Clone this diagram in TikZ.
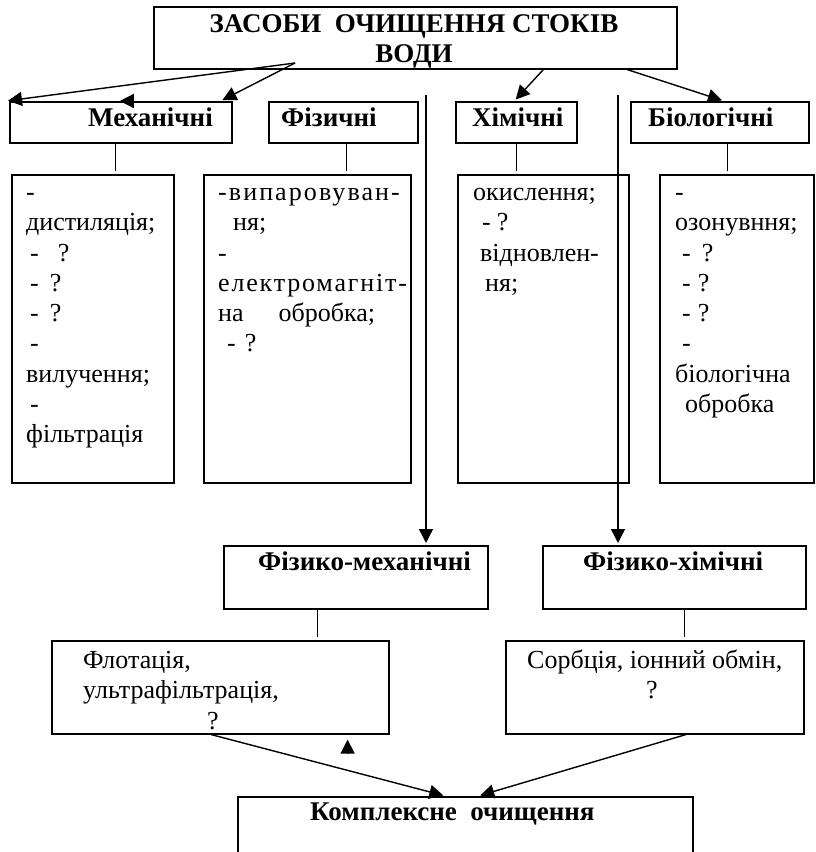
\documentclass[tikz,border=0pt]{standalone}
\usepackage{fontspec}
\setmainfont{Liberation Serif}
\usetikzlibrary{arrows.meta}

\begin{document}
\begin{tikzpicture}[
    x=1pt, y=-1pt,
    box/.style={draw, line width=1.6pt, inner sep=0pt, anchor=north west},
    head/.style={anchor=north, align=center, inner sep=0pt, font=\fontsize{27}{30}\selectfont\bfseries},
    title/.style={anchor=base west, inner sep=0pt, font=\fontsize{27}{30}\selectfont\bfseries},
    item/.style={anchor=north west, align=left, inner sep=0pt, font=\fontsize{26}{30.3}\selectfont},
    link/.style={line width=1pt, shorten >=3pt},
    arrow/.style={-{Triangle[length=14pt,width=14pt]}, line width=1.4pt, shorten >=2pt}
    ]
\clip (0,0) rectangle (816,852);

% Top box
\node[box, minimum width=523pt, minimum height=62pt] (top) at (153,6) {};
\node[head] (top text) at (414,11) {\strut ЗАСОБИ\ \ ОЧИЩЕННЯ СТОКІВ\\ВОДИ};

% Kinds of cleaning
\node[box, minimum width=222pt, minimum height=41pt] (mech) at (9,101) {};
\node[box, minimum width=149pt, minimum height=41pt] (phys) at (268,101) {};
\node[box, minimum width=121pt, minimum height=41pt] (chem) at (455,101) {};
\node[box, minimum width=178pt, minimum height=41pt] (bio) at (630,101) {};
\node[title] (mech text) at (88,126) {Механічні};
\node[title] (phys text) at (281,126) {Фізичні};
\node[title] (chem text) at (472,126) {Хімічні};
\node[title] (bio text) at (648,126) {Біологічні};

% Lists of methods
\node[box, minimum width=162pt, minimum height=308pt] (mechlist) at (11,174) {};
\node[box, minimum width=207pt, minimum height=308pt] (physlist) at (203,174) {};
\node[box, minimum width=171pt, minimum height=308pt] (chemlist) at (457,174) {};
\node[box, minimum width=154pt, minimum height=308pt] (biolist) at (659,174) {};

\node[item] (mechlist text) at (26,179) {\strut-\\дистиляція;\\\hspace*{4pt}-\hspace{19pt}?\\\hspace*{4pt}-\hspace{11pt}?\\\hspace*{4pt}-\hspace{11pt}?\\\hspace*{4pt}-\\вилучення;\\\hspace*{4pt}-\\фільтрація};
\node[item] (physlist text) at (218,179) {\strut{\addfontfeature{LetterSpace=8}-випаровуван-}\\\hspace*{15pt}ня;\\-\\{\addfontfeature{LetterSpace=7}електромагніт-}\\на\hspace{35pt}обробка;\\\hspace*{9pt}-\hspace{9pt}?};
\node[item] (chemlist text) at (473,179) {\strut окислення;\\\hspace*{9pt}-\hspace{6pt}?\\\hspace*{7pt}відновлен-\\\hspace*{12pt}ня;};
\node[item] (biolist text) at (675,179) {\strut-\\озонувння;\\\hspace*{7pt}-\hspace{11pt}?\\\hspace*{7pt}-\hspace{7pt}?\\\hspace*{7pt}-\hspace{7pt}?\\\hspace*{7pt}-\\біологічна\\\hspace*{10pt}обробка};

% Combined methods
\node[box, minimum width=264pt, minimum height=63pt] (fizmech) at (223,545) {};
\node[box, minimum width=263pt, minimum height=63pt] (fizchem) at (542,545) {};
\node[title] (fizmech text) at (258,570) {Фізико-механічні};
\node[title] (fizchem text) at (583,570) {Фізико-хімічні};

\node[box, minimum width=337pt, minimum height=93pt] (flot) at (51,640) {};
\node[box, minimum width=298pt, minimum height=93pt] (sorb) at (505,640) {};
\node[item] (flot text) at (83,647) {\strut Флотація,\\ультрафільтрація,\\\hspace*{124pt}?};
\node[item] (sorb text) at (527,647) {\strut Сорбція, іонний обмін,\\\hspace*{119pt}?};

\node[box, minimum width=455pt, minimum height=80pt] (kompl) at (237,796) {};
\node[title] (kompl text) at (310,820) {Комплексне\ \ очищення};

% Arrows from the top box
\coordinate (fork) at (295,63);
\draw[arrow] (fork) -- ([xshift=-3pt]mech.north west);
\draw[arrow] (fork) -- ([xshift=-12pt]mech.north east);
\draw[arrow] ([xshift=12pt]mech.north) -- ([xshift=-3pt]mech.north);
\draw[arrow] ([xshift=128pt]top.south) -- ([xshift=-2pt]chem.north);
\draw[arrow] ([xshift=212pt]top.south) -- ([xshift=4pt]bio.north);

\coordinate (drop left) at (426,95);
\coordinate (drop right) at (618,95);
\draw[arrow] (drop left) -- (drop left |- fizmech.north);
\draw[arrow] (drop right) -- (drop right |- fizchem.north);

% Links to the lists
\draw[link] ([xshift=-5pt]mech.south) -- ([xshift=-5pt]mech.south |- mechlist.north);
\draw[link] ([xshift=3.5pt]phys.south) -- ([xshift=3.5pt]phys.south |- physlist.north);
\draw[link] (chem.south) -- (chem.south |- chemlist.north);
\draw[link] ([xshift=8pt]bio.south) -- ([xshift=8pt]bio.south |- biolist.north);
\draw[link] ([xshift=-38pt]fizmech.south) -- ([xshift=-38pt]fizmech.south |- flot.north);
\draw[link] ([xshift=10.5pt]fizchem.south) -- ([xshift=10.5pt]fizchem.south |- sorb.north);

% Arrows to the complex cleaning
\draw[arrow] ([xshift=-9pt]flot.south) -- ([xshift=-20pt]kompl.north);
\draw[arrow] ([xshift=31pt]sorb.south) -- ([xshift=13pt]kompl.north);
\draw[arrow] ([xshift=-42pt,yshift=-18pt]flot.south east) -- ([xshift=-42pt,yshift=-3pt]flot.south east);

\end{tikzpicture}
\end{document}
